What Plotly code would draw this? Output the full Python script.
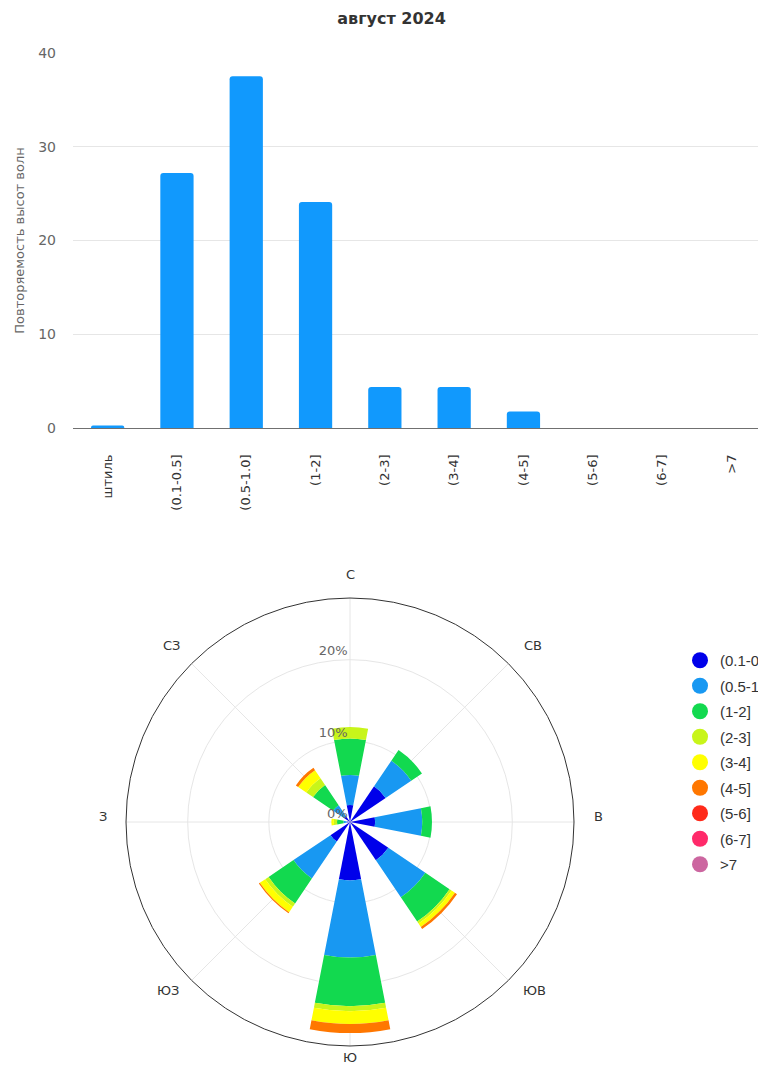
import plotly.graph_objects as go

# ---------------- data ----------------
title_text = "август 2024"
y_title = "Повторяемость высот волн"

height_classes = ["штиль", "(0.1-0.5]", "(0.5-1.0]", "(1-2]", "(2-3]",
                  "(3-4]", "(4-5]", "(5-6]", "(6-7]", ">7"]
height_freq = [0.3, 27.2, 37.5, 24.1, 4.4, 4.4, 1.8, 0, 0, 0]

directions = ["С", "СВ", "В", "ЮВ", "Ю", "ЮЗ", "З", "СЗ"]
direction_deg = [0, 45, 90, 135, 180, 225, 270, 315]

radial_ticks = [0, 10, 20]
radial_ticktext = ["0%", "10%", "20%"]

rose_classes = ["(0.1-0.5]", "(0.5-1.0]", "(1-2]", "(2-3]", "(3-4]",
                "(4-5]", "(5-6]", "(6-7]", ">7"]
# values per direction: С, СВ, В, ЮВ, Ю, ЮЗ, З, СЗ (percent)
r_01_05 = [2.1, 5.3, 3.1, 5.7, 7.2, 2.9, 0.4, 0.9]
r_05_10 = [3.7, 3.8, 5.8, 5.5, 9.5, 5.5, 0.4, 1.6]
r_1_2 = [4.5, 1.6, 1.2, 3.6, 6.0, 3.7, 0.8, 3.0]
r_2_3 = [1.4, 0, 0, 0.3, 0.6, 0.5, 0.4, 1.0]
r_3_4 = [0, 0, 0, 0.5, 1.6, 0.8, 0.3, 1.2]
r_4_5 = [0, 0, 0, 0.3, 1.1, 0.15, 0, 0.35]
r_5_6 = [0, 0, 0, 0, 0, 0, 0, 0]
r_6_7 = [0, 0, 0, 0, 0, 0, 0, 0]
r_gt7 = [0, 0, 0, 0, 0, 0, 0, 0]
rose_values = [r_01_05, r_05_10, r_1_2, r_2_3, r_3_4, r_4_5, r_5_6, r_6_7, r_gt7]

rose_colors = ["#0000ea", "#1898f2", "#12d94f", "#c8f51a", "#ffff00",
               "#ff7700", "#ff2a1a", "#ff2a6a", "#cc66a0"]
bar_color = "#1199fd"

W, H = 766, 1065
OFF = 8  # page offset of the figure (body margin)
FONT = "DejaVu Sans, Verdana, sans-serif"


def fx(px):  # page x -> paper fraction
    return (px - OFF) / W


def fy(py):  # page y -> paper fraction (from bottom)
    return (H - (py - OFF)) / H


fig = go.Figure()

fig.add_trace(go.Bar(
    x=height_classes, y=height_freq, xaxis="x", yaxis="y",
    marker=dict(color=bar_color, cornerradius=3, line=dict(width=0)),
    showlegend=False, hoverinfo="x+y"))

for name, vals, col in zip(rose_classes, rose_values, rose_colors):
    fig.add_trace(go.Barpolar(
        r=vals, theta=direction_deg, width=22, name=name,
        marker=dict(color=col, line=dict(width=0)),
        legendgroup=name, showlegend=False, subplot="polar"))
    fig.add_trace(go.Scatterpolar(
        r=[None], theta=[None], mode="markers", name=name,
        marker=dict(color=col, size=16, symbol="circle"),
        legendgroup=name, showlegend=True, subplot="polar"))

# direction labels around the rose (page pixel positions)
dir_label_pos = [(350, 574), (533, 645), (598, 816), (534, 990),
                 (350, 1057), (168, 990), (103, 816), (171, 645)]
annotations = [dict(text=t, x=fx(px), y=fy(py), xref="paper", yref="paper",
                    xanchor="center", yanchor="middle", showarrow=False,
                    font=dict(family=FONT, size=13, color="#333"))
               for t, (px, py) in zip(directions, dir_label_pos)]

fig.update_layout(
    width=W, height=H,
    margin=dict(l=0, r=0, t=0, b=0, autoexpand=False),
    paper_bgcolor="white", plot_bgcolor="white",
    font=dict(family=FONT, color="#333"),
    title=dict(text=title_text, x=fx(391.5), xanchor="center",
               y=fy(18), yanchor="middle", yref="container",
               font=dict(family=FONT, size=16, color="#333", weight="bold")),
    bargap=0.52,
    xaxis=dict(domain=[fx(73), fx(766)], anchor="y", showline=True,
               linecolor="#707070", linewidth=1, ticks="",
               tickangle=-90, tickfont=dict(size=13, color="#333"),
               ticklabelstandoff=20, showgrid=False, fixedrange=True),
    yaxis=dict(domain=[fy(428.3), fy(52.7)], anchor="x",
               range=[0, 40], dtick=10, showgrid=True, gridcolor="#e6e6e6",
               zeroline=False, showline=False, ticks="",
               tickfont=dict(size=14, color="#666"), ticklabelstandoff=16,
               title=dict(text=y_title, font=dict(size=13, color="#666"),
                          standoff=10)),
    polar=dict(
        domain=dict(x=[fx(126), fx(574)], y=[fy(1046), fy(598)]),
        bgcolor="white", barmode="stack", bargap=0,
        radialaxis=dict(range=[0, 27.6], tickmode="array",
                        tickvals=radial_ticks,
                        ticktext=[t + "<br> " for t in radial_ticktext],
                        angle=90, tickangle=90, side="counterclockwise",
                        showline=False, ticks="", gridcolor="#e6e6e6",
                        tickfont=dict(size=13, color="#666")),
        angularaxis=dict(rotation=90, direction="clockwise",
                         thetaunit="degrees", tickmode="array",
                         tickvals=direction_deg, ticktext=directions,
                         showticklabels=False,
                         showline=True, linecolor="#333", linewidth=1,
                         gridcolor="#e6e6e6", ticks="")),
    annotations=annotations,
    legend=dict(x=fx(680), xanchor="left", y=fy(644), yanchor="top",
                font=dict(family="Liberation Sans, Arial, sans-serif",
                          size=15, color="#333"),
                itemsizing="trace", tracegroupgap=3, bgcolor="rgba(0,0,0,0)"),
)

fig.write_html("out.html")
